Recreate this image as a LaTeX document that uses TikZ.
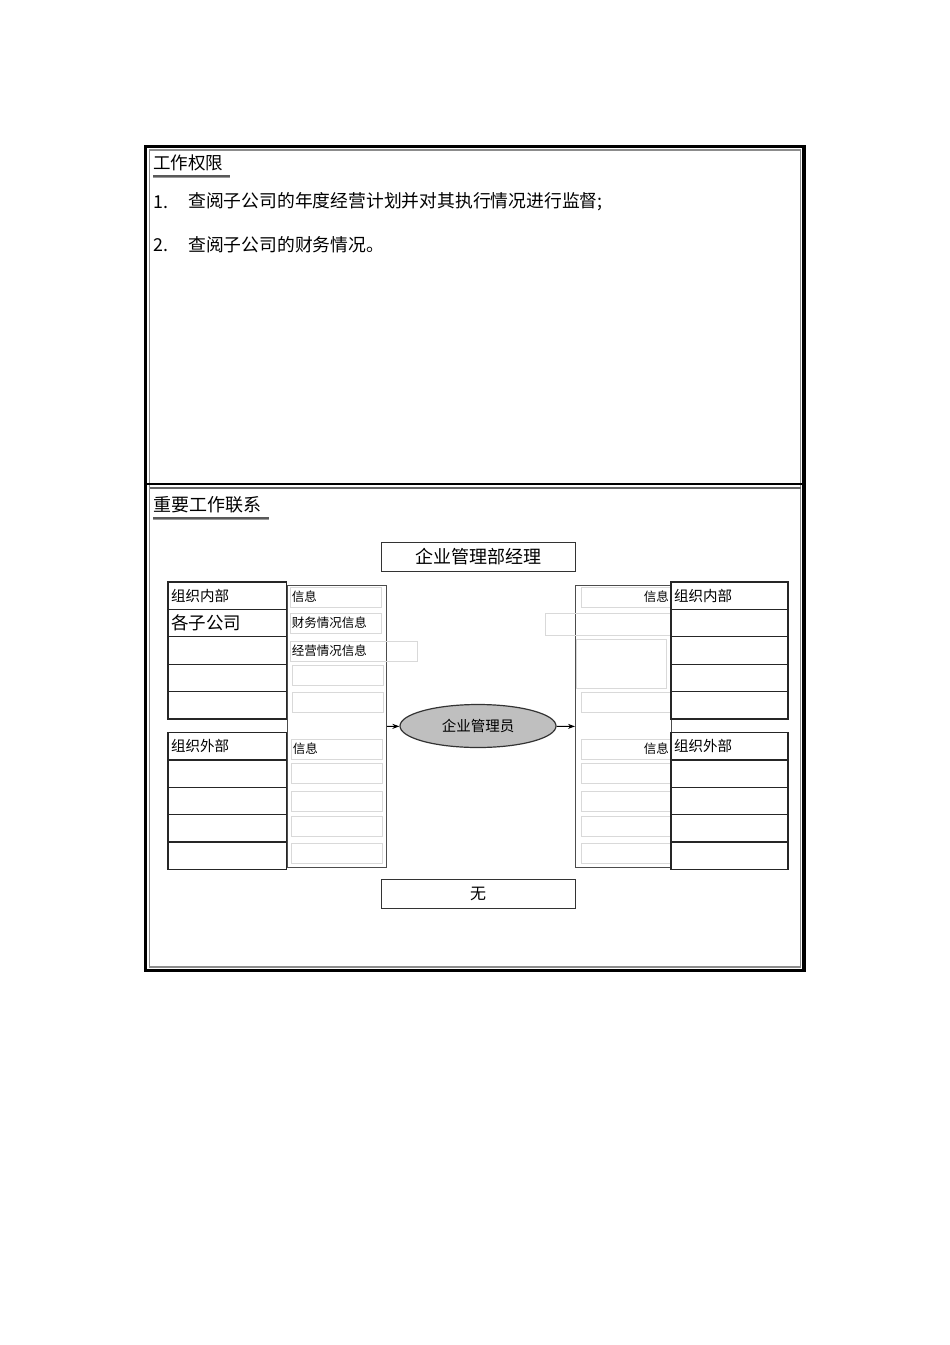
\documentclass[tikz,border=0pt]{standalone}
\usepackage{fontspec}
\setmainfont{Noto Sans CJK SC}
\usepackage{tikz}
\usetikzlibrary{shapes.geometric, arrows.meta, positioning, calc}

\begin{document}
\begin{tikzpicture}[
    x = 1pt, y = -1pt,
    node distance = 0pt and 0pt,
    frame/.style = {draw=black, line width=3.5pt},
    heading/.style = {anchor=west, inner sep=0pt, font=\fontsize{18}{18}\selectfont},
    item/.style = {anchor=west, inner sep=0pt, font=\fontsize{17.8}{18}\selectfont},
    rowbox/.style = {rectangle, draw=black!85, line width=1.3pt, outer sep=0pt, minimum width=118.5pt, minimum height=27.4pt, text width=112.5pt, inner sep=3pt, align=left, font=\fontsize{14.5}{15}\selectfont},
    panel/.style = {rectangle, draw=black!70, line width=1.2pt, anchor=north west, minimum width=99pt, minimum height=282pt},
    infobox/.style = {rectangle, draw=black!15, line width=0.8pt, anchor=north west, minimum width=91pt, minimum height=19.5pt, text width=88pt, inner sep=1.5pt, align=left, font=\fontsize{12.5}{13}\selectfont},
    titlebox/.style = {rectangle, draw=black!80, line width=1pt, minimum width=194pt, minimum height=29pt, font=\fontsize{18}{18}\selectfont},
    arrow/.style = {-{Stealth[length=7pt, width=5pt]}, line width=1pt}
]
    \useasboundingbox (0,0) rectangle (950,1345);

    % outer frame and separator
    \draw[frame] (145.5,146.5) rectangle (804,970.5);
    \draw[black!45, line width=1.5pt] (149.5,150) rectangle (800.5,967);
    \draw[black, line width=2.5pt] (147,484) -- (803,484);
    \draw[black!60, line width=1.5pt] (149.5,488) -- (800.5,488);

    % upper part
    \node[heading, font=\fontsize{17.5}{18}\selectfont] (auth) at (153,163) {工作权限};
    \draw[black!65, line width=1.6pt] ([yshift=-4.5pt]auth.south west) -- ([xshift=7pt, yshift=-4.5pt]auth.south east);
    \draw[black!40, line width=1.6pt] ([yshift=-6pt]auth.south west) -- ([xshift=7pt, yshift=-6pt]auth.south east);
    \node[item] (num1) at (153,202) {1.};
    \node[item] (txt1) at (188,202) {查阅子公司的年度经营计划并对其执行情况进行监督;};
    \node[item] (num2) at (153,245) {2.};
    \node[item] (txt2) at (188,245) {查阅子公司的财务情况。};

    % lower part
    \node[heading] (links) at (153,505) {重要工作联系};
    \draw[black!65, line width=1.6pt] ([yshift=-4.5pt]links.south west) -- ([xshift=8pt, yshift=-4.5pt]links.south east);
    \draw[black!40, line width=1.6pt] ([yshift=-6pt]links.south west) -- ([xshift=8pt, yshift=-6pt]links.south east);

    \node[titlebox] (mgr) at (478,556.5) {企业管理部经理};
    \node[titlebox, font=\fontsize{16}{16}\selectfont] (none) at (478,893.5) {无};

    \node[panel] (lpanel) at (287,585) {};
    \node[panel, minimum width=96pt] (rpanel) at (575,585) {};

    % left info cells
    \node[infobox] (li1) at (290,587) {信息};
    \node[infobox] (li2) at (290,613) {财务情况信息};
    \node[infobox, minimum width=127pt, text width=124pt] (li3) at (290,641) {经营情况信息};
    \node[infobox] (li4) at (292,665) {};
    \node[infobox] (li5) at (292,692) {};
    \node[infobox] (lo1) at (291,739) {信息};
    \node[infobox] (lo2) at (291,763) {};
    \node[infobox] (lo3) at (291,791) {};
    \node[infobox] (lo4) at (291,816) {};
    \node[infobox] (lo5) at (291,843) {};

    % right info cells
    \node[infobox, minimum width=89pt, text width=86pt, align=right] (ri1) at (581,587) {信息};
    \node[infobox, minimum width=125pt, minimum height=22pt, text width=122pt] (ri2) at (545,613) {};
    \node[infobox, minimum width=90pt, minimum height=49pt, text width=87pt] (ri3) at (576,639) {};
    \node[infobox, minimum width=89pt, text width=86pt] (ri4) at (581,692) {};
    \node[infobox, minimum width=89pt, text width=86pt, align=right] (ro1) at (581,739) {信息};
    \node[infobox, minimum width=89pt, text width=86pt] (ro2) at (581,763) {};
    \node[infobox, minimum width=89pt, text width=86pt] (ro3) at (581,791) {};
    \node[infobox, minimum width=89pt, text width=86pt] (ro4) at (581,816) {};
    \node[infobox, minimum width=89pt, text width=86pt] (ro5) at (581,843) {};

    % left tables
    \node[rowbox, anchor=north west] (lin1) at (168,582) {组织内部};
    \node[rowbox, below=of lin1, font=\fontsize{17.5}{18}\selectfont] (lin2) {各子公司};
    \node[rowbox, below=of lin2] (lin3) {};
    \node[rowbox, below=of lin3] (lin4) {};
    \node[rowbox, below=of lin4] (lin5) {};
    \node[rowbox, anchor=north west] (lout1) at (168,732.5) {组织外部};
    \node[rowbox, below=of lout1] (lout2) {};
    \node[rowbox, below=of lout2] (lout3) {};
    \node[rowbox, below=of lout3] (lout4) {};
    \node[rowbox, below=of lout4] (lout5) {};

    % right tables
    \node[rowbox, anchor=north west, minimum width=117pt, text width=111pt] (rin1) at (671,582) {组织内部};
    \node[rowbox, below=of rin1, minimum width=117pt, text width=111pt] (rin2) {};
    \node[rowbox, below=of rin2, minimum width=117pt, text width=111pt] (rin3) {};
    \node[rowbox, below=of rin3, minimum width=117pt, text width=111pt] (rin4) {};
    \node[rowbox, below=of rin4, minimum width=117pt, text width=111pt] (rin5) {};
    \node[rowbox, anchor=north west, minimum width=117pt, text width=111pt] (rout1) at (671,732.5) {组织外部};
    \node[rowbox, below=of rout1, minimum width=117pt, text width=111pt] (rout2) {};
    \node[rowbox, below=of rout2, minimum width=117pt, text width=111pt] (rout3) {};
    \node[rowbox, below=of rout3, minimum width=117pt, text width=111pt] (rout4) {};
    \node[rowbox, below=of rout4, minimum width=117pt, text width=111pt] (rout5) {};

    % centre
    \node[ellipse, draw=black!80, line width=1.2pt, fill=gray!50, minimum width=156pt, minimum height=43pt, font=\fontsize{14.5}{15}\selectfont] (admin) at (478,726) {企业管理员};
    \draw[arrow] (lpanel) -- (admin);
    \draw[arrow] (admin) -- (rpanel);
\end{tikzpicture}
\end{document}
